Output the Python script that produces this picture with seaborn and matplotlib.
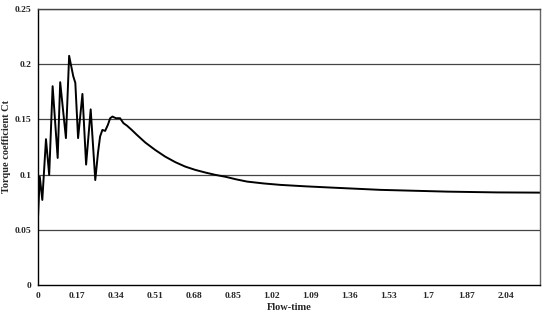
import numpy as np
import pandas as pd
import seaborn as sns
import matplotlib.pyplot as plt

# values
flow_time = [0.0, 0.003, 0.008, 0.019, 0.035, 0.049, 0.064, 0.086, 0.097,
             0.122, 0.136, 0.154, 0.163, 0.175, 0.194, 0.210, 0.230, 0.250, 0.262,
             0.271, 0.281, 0.293, 0.305, 0.315, 0.325, 0.340, 0.358, 0.373, 0.388,
             0.409, 0.431, 0.468, 0.511, 0.555, 0.599, 0.642, 0.686, 0.730, 0.773,
             0.817, 0.865, 0.912, 0.985, 1.058, 1.167, 1.276, 1.494, 1.786, 2.000, 2.190]
torque_ct = [0.060, 0.075, 0.098, 0.077, 0.132, 0.0997, 0.180, 0.115, 0.1836,
             0.133, 0.2075, 0.189, 0.183, 0.133, 0.173, 0.109, 0.159, 0.095, 0.120,
             0.1344, 0.1404, 0.1395, 0.145, 0.151, 0.1525, 0.151, 0.151, 0.1465, 0.1443,
             0.1404, 0.136, 0.129, 0.1223, 0.1162, 0.1112, 0.1072, 0.1042, 0.1018, 0.0997,
             0.098, 0.0956, 0.0936, 0.0919, 0.0906, 0.0893, 0.0882, 0.0861, 0.0845, 0.0838, 0.0836]

x_ticks = [0, 0.17, 0.34, 0.51, 0.68, 0.85, 1.02, 1.19, 1.36, 1.53, 1.70, 1.87, 2.04]
x_tick_labels = ['0', '0.17', '0.34', '0.51', '0.68', '0.85', '1.02', '1.09',
                 '1.36', '1.53', '1.7', '1.87', '2.04']
y_ticks = [0, 0.05, 0.1, 0.15, 0.2, 0.25]
y_tick_labels = ['0', '0.05', '0.1', '0.15', '0.2', '0.25']

df = pd.DataFrame({'Flow-time': flow_time, 'Ct': torque_ct})

sns.set_style('white')
plt.rcParams['font.family'] = ['Liberation Serif', 'DejaVu Serif']
plt.rcParams['font.weight'] = 'bold'

fig = plt.figure(figsize=(5.5, 3.18), dpi=100)
ax = fig.add_axes([0.069, 0.104, 0.913, 0.868])

sns.lineplot(data=df, x='Flow-time', y='Ct', color='black', linewidth=1.4, ax=ax)

ax.set_xlim(0, 2.19)
ax.set_ylim(0, 0.25)
ax.set_xticks(x_ticks)
ax.set_xticklabels(x_tick_labels)
ax.set_yticks(y_ticks)
ax.set_yticklabels(y_tick_labels)
ax.tick_params(length=0, labelsize=6.8, pad=5)
for lab in ax.get_xticklabels() + ax.get_yticklabels():
    lab.set_fontweight('bold')

for yv in y_ticks[1:]:
    ax.axhline(yv, color='#444444', linewidth=0.9, zorder=0)

ax.spines['left'].set_color('black')
ax.spines['bottom'].set_color('black')
ax.spines['right'].set_color('#666666')
ax.spines['top'].set_color('#444444')
for s in ax.spines.values():
    s.set_linewidth(1.0)

ax.set_xlabel('Flow-time', fontsize=7.5, fontweight='bold', labelpad=2)
ax.set_ylabel('Torque coefficient Ct', fontsize=7.5, fontweight='bold')
ax.yaxis.set_label_coords(-0.054, 0.5)

fig.savefig('out.png', dpi=100)
